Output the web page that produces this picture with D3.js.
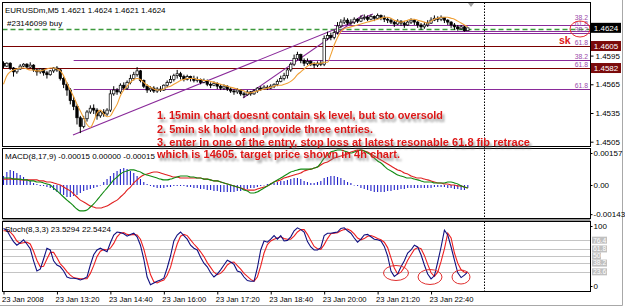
<!DOCTYPE html>
<html>
<head>
<meta charset="utf-8">
<script src="https://cdn.jsdelivr.net/npm/d3@7"></script>
<style>
  body { margin: 0; background: #fff; }
  svg { display: block; }
</style>
</head>
<body>
<script>
// EURUSDm M5, 23 Jan 2008 12:00 .. 23:35 (140 bars)
let firstOpen = 1.4587
let closes = [
  1.4584,1.4587,1.4582,1.4578,1.4581,1.4584,1.4586,1.4583,1.4585,1.4580,
  1.4578,1.4581,1.4577,1.4575,1.4579,1.4582,1.4580,1.4571,1.4565,1.4559,
  1.4548,1.4542,1.4530,1.4521,1.4529,1.4536,1.4540,1.4538,1.4532,1.4536,
  1.4534,1.4538,1.4555,1.4559,1.4557,1.4564,1.4561,1.4567,1.4571,1.4575,
  1.4579,1.4569,1.4563,1.4559,1.4561,1.4558,1.4560,1.4559,1.4564,1.4567,
  1.4570,1.4574,1.4576,1.4573,1.4570,1.4573,1.4571,1.4569,1.4570,1.4567,
  1.4569,1.4565,1.4564,1.4566,1.4563,1.4561,1.4563,1.4560,1.4558,1.4557,
  1.4559,1.4555,1.4554,1.4557,1.4555,1.4558,1.4561,1.4560,1.4562,1.4561,
  1.4563,1.4565,1.4568,1.4571,1.4574,1.4580,1.4586,1.4592,1.4596,1.4590,
  1.4587,1.4589,1.4586,1.4585,1.4587,1.4586,1.4613,1.4616,1.4614,1.4619,
  1.4626,1.4630,1.4632,1.4629,1.4630,1.4633,1.4631,1.4634,1.4635,1.4633,
  1.4636,1.4634,1.4637,1.4635,1.4633,1.4632,1.4630,1.4628,1.4631,1.4629,
  1.4627,1.4630,1.4632,1.4630,1.4627,1.4625,1.4627,1.4629,1.4632,1.4634,
  1.4633,1.4635,1.4632,1.4630,1.4627,1.4625,1.4623,1.4625,1.4621,1.4624
]
let highs = [
  1.4589,1.4588,1.4588,1.4583,1.4582,1.4586,1.4587,1.4587,1.4588,1.4586,
  1.4581,1.4582,1.4582,1.4579,1.4580,1.4583,1.4584,1.4581,1.4573,1.4567,
  1.4561,1.4552,1.4544,1.4532,1.4532,1.4538,1.4543,1.4544,1.4540,1.4538,
  1.4539,1.4540,1.4559,1.4563,1.4561,1.4566,1.4567,1.4569,1.4575,1.4578,
  1.4583,1.4580,1.4570,1.4565,1.4563,1.4563,1.4562,1.4563,1.4565,1.4569,
  1.4574,1.4576,1.4580,1.4578,1.4575,1.4575,1.4574,1.4574,1.4573,1.4571,
  1.4571,1.4570,1.4567,1.4568,1.4567,1.4565,1.4565,1.4564,1.4562,1.4560,
  1.4561,1.4560,1.4557,1.4559,1.4558,1.4560,1.4562,1.4563,1.4564,1.4564,
  1.4565,1.4566,1.4570,1.4574,1.4577,1.4582,1.4588,1.4596,1.4599,1.4597,
  1.4592,1.4592,1.4590,1.4588,1.4589,1.4590,1.4616,1.4620,1.4619,1.4622,
  1.4630,1.4633,1.4635,1.4634,1.4633,1.4635,1.4634,1.4637,1.4638,1.4637,
  1.4638,1.4637,1.4639,1.4638,1.4637,1.4635,1.4634,1.4632,1.4633,1.4632,
  1.4631,1.4632,1.4634,1.4633,1.4631,1.4629,1.4630,1.4632,1.4635,1.4637,
  1.4636,1.4637,1.4635,1.4633,1.4631,1.4629,1.4627,1.4627,1.4626,1.4624
]
let lows = [
  1.4582,1.4583,1.4580,1.4573,1.4576,1.4580,1.4583,1.4581,1.4582,1.4578,
  1.4574,1.4576,1.4574,1.4571,1.4574,1.4577,1.4578,1.4569,1.4561,1.4553,
  1.4544,1.4538,1.4523,1.4514,1.4519,1.4526,1.4534,1.4534,1.4528,1.4530,
  1.4531,1.4532,1.4536,1.4553,1.4554,1.4555,1.4559,1.4559,1.4565,1.4569,
  1.4573,1.4567,1.4561,1.4556,1.4557,1.4556,1.4556,1.4557,1.4558,1.4562,
  1.4566,1.4568,1.4571,1.4570,1.4568,1.4569,1.4568,1.4567,1.4567,1.4565,
  1.4566,1.4563,1.4561,1.4563,1.4560,1.4559,1.4559,1.4558,1.4556,1.4554,
  1.4555,1.4553,1.4551,1.4553,1.4553,1.4554,1.4556,1.4558,1.4559,1.4559,
  1.4560,1.4561,1.4563,1.4567,1.4569,1.4571,1.4578,1.4584,1.4590,1.4587,
  1.4584,1.4585,1.4584,1.4582,1.4583,1.4584,1.4584,1.4611,1.4611,1.4612,
  1.4617,1.4624,1.4628,1.4627,1.4627,1.4628,1.4629,1.4630,1.4632,1.4631,
  1.4632,1.4631,1.4633,1.4632,1.4630,1.4629,1.4628,1.4625,1.4627,1.4626,
  1.4624,1.4626,1.4628,1.4627,1.4624,1.4622,1.4623,1.4625,1.4628,1.4631,
  1.4630,1.4631,1.4629,1.4627,1.4624,1.4622,1.4621,1.4622,1.4620,1.4621
]
// orange moving average
let maLine = [
  1.4565,1.4574,1.4578,1.4580,1.4581,1.4582,1.4582,1.4581,1.4580,1.4580,
  1.4579,1.4579,1.4580,1.4581,1.4582,1.4582,1.4581,1.4579,1.4574,1.4566,
  1.4559,1.4552,1.4544,1.4537,1.4530,1.4523,1.4520,1.4526,1.4535,1.4538,
  1.4534,1.4531,1.4532,1.4538,1.4544,1.4553,1.4559,1.4563,1.4567,1.4570,
  1.4571,1.4570,1.4567,1.4564,1.4562,1.4560,1.4559,1.4559,1.4560,1.4562,
  1.4563,1.4565,1.4567,1.4569,1.4570,1.4571,1.4571,1.4571,1.4570,1.4570,
  1.4569,1.4569,1.4568,1.4567,1.4566,1.4565,1.4564,1.4563,1.4562,1.4561,
  1.4560,1.4559,1.4558,1.4556,1.4556,1.4557,1.4558,1.4559,1.4560,1.4561,
  1.4562,1.4563,1.4564,1.4564,1.4565,1.4566,1.4568,1.4571,1.4575,1.4578,
  1.4581,1.4584,1.4586,1.4587,1.4587,1.4587,1.4588,1.4588,1.4596,1.4606,
  1.4614,1.4620,1.4623,1.4624,1.4625,1.4626,1.4627,1.4628,1.4629,1.4630,
  1.4631,1.4632,1.4633,1.4634,1.4635,1.4635,1.4634,1.4632,1.4631,1.4630,
  1.4631,1.4632,1.4633,1.4633,1.4632,1.4631,1.4630,1.4629,1.4631,1.4633,
  1.4634,1.4635,1.4635,1.4635,1.4634,1.4633,1.4631,1.4629,1.4627,1.4625
]
let macdHist = [
  0.00044,0.00064,0.00074,0.00069,0.00059,0.00049,0.00039,0.00029,0.00020,0.00010,
  0.00005,-0.00005,-0.00005,-0.00010,-0.00015,-0.00025,-0.00034,-0.00044,-0.00049,-0.00059,
  -0.00059,-0.00054,-0.00049,-0.00039,-0.00029,-0.00025,-0.00020,-0.00015,-0.00010,0.00000,
  0.00015,0.00029,0.00044,0.00059,0.00069,0.00078,0.00083,0.00078,0.00069,0.00059,
  0.00044,0.00029,0.00015,0.00005,-0.00005,-0.00010,-0.00015,-0.00015,-0.00015,-0.00010,
  -0.00010,-0.00005,-0.00005,-0.00005,-0.00005,-0.00010,-0.00010,-0.00015,-0.00015,-0.00020,
  -0.00020,-0.00025,-0.00025,-0.00029,-0.00029,-0.00034,-0.00034,-0.00034,-0.00034,-0.00034,
  -0.00029,-0.00029,-0.00025,-0.00020,-0.00015,-0.00015,-0.00010,-0.00005,0.00000,0.00005,
  0.00010,0.00010,0.00015,0.00020,0.00020,0.00025,0.00029,0.00034,0.00034,0.00029,
  0.00020,0.00015,0.00010,0.00010,0.00015,0.00020,0.00034,0.00039,0.00044,0.00044,
  0.00039,0.00034,0.00025,0.00015,0.00010,0.00000,-0.00005,-0.00015,-0.00020,-0.00025,
  -0.00029,-0.00034,-0.00034,-0.00034,-0.00034,-0.00029,-0.00029,-0.00025,-0.00025,-0.00020,
  -0.00020,-0.00015,-0.00015,-0.00015,-0.00015,-0.00015,-0.00015,-0.00015,-0.00015,-0.00010,
  -0.00010,-0.00010,-0.00010,-0.00015,-0.00015,-0.00020,-0.00020,-0.00025,-0.00025,-0.00015
]
let macdMain = [
  0.00034,0.00034,0.00034,0.00029,0.00029,0.00029,0.00025,0.00025,0.00020,0.00020,
  0.00015,0.00015,0.00010,0.00005,0.00000,-0.00015,-0.00029,-0.00044,-0.00059,-0.00074,
  -0.00088,-0.00103,-0.00118,-0.00127,-0.00127,-0.00123,-0.00108,-0.00093,-0.00074,-0.00054,
  -0.00034,-0.00015,0.00005,0.00025,0.00039,0.00054,0.00064,0.00069,0.00074,0.00074,
  0.00069,0.00064,0.00054,0.00049,0.00044,0.00039,0.00034,0.00029,0.00025,0.00025,
  0.00029,0.00034,0.00039,0.00044,0.00044,0.00044,0.00039,0.00039,0.00034,0.00034,
  0.00029,0.00029,0.00025,0.00020,0.00020,0.00015,0.00010,0.00005,0.00000,-0.00005,
  -0.00010,-0.00015,-0.00025,-0.00029,-0.00039,-0.00039,-0.00034,-0.00025,-0.00015,-0.00005,
  0.00005,0.00015,0.00025,0.00034,0.00044,0.00054,0.00064,0.00069,0.00074,0.00078,
  0.00078,0.00078,0.00078,0.00083,0.00088,0.00108,0.00132,0.00147,0.00162,0.00167,
  0.00172,0.00172,0.00167,0.00162,0.00157,0.00162,0.00167,0.00172,0.00167,0.00157,
  0.00147,0.00132,0.00118,0.00108,0.00093,0.00078,0.00069,0.00059,0.00049,0.00044,
  0.00039,0.00034,0.00034,0.00029,0.00025,0.00020,0.00015,0.00015,0.00015,0.00010,
  0.00010,0.00010,0.00010,0.00015,0.00015,0.00010,0.00005,-0.00005,-0.00010,-0.00015
]
let macdSignal = [
  0.00029,0.00029,0.00029,0.00029,0.00029,0.00025,0.00025,0.00025,0.00025,0.00025,
  0.00025,0.00020,0.00020,0.00015,0.00015,0.00010,0.00005,0.00000,-0.00010,-0.00020,
  -0.00029,-0.00044,-0.00059,-0.00074,-0.00083,-0.00093,-0.00103,-0.00108,-0.00113,-0.00113,
  -0.00108,-0.00103,-0.00093,-0.00083,-0.00074,-0.00059,-0.00044,-0.00025,-0.00010,0.00010,
  0.00025,0.00039,0.00049,0.00054,0.00059,0.00064,0.00064,0.00059,0.00054,0.00049,
  0.00044,0.00039,0.00039,0.00034,0.00034,0.00034,0.00034,0.00034,0.00034,0.00034,
  0.00029,0.00029,0.00025,0.00020,0.00020,0.00015,0.00010,0.00005,0.00000,-0.00005,
  -0.00010,-0.00015,-0.00020,-0.00025,-0.00025,-0.00025,-0.00020,-0.00015,-0.00010,-0.00005,
  0.00005,0.00015,0.00020,0.00025,0.00034,0.00039,0.00044,0.00049,0.00054,0.00059,
  0.00069,0.00074,0.00078,0.00083,0.00088,0.00098,0.00108,0.00113,0.00123,0.00132,
  0.00137,0.00142,0.00147,0.00152,0.00162,0.00167,0.00172,0.00172,0.00167,0.00162,
  0.00152,0.00142,0.00132,0.00123,0.00113,0.00103,0.00093,0.00083,0.00074,0.00069,
  0.00059,0.00054,0.00044,0.00039,0.00034,0.00034,0.00029,0.00025,0.00020,0.00015,
  0.00010,0.00010,0.00005,0.00005,0.00000,0.00000,-0.00005,-0.00005,-0.00010,-0.00015
]
let stochK = [
  96,93,83,74,68,72,77,70,62,42,
  25,28,45,63,60,42,35,32,25,15,
  13,13,12,10,12,15,35,52,60,63,
  60,57,72,85,90,89,87,83,86,88,
  82,68,45,15,2,5,8,10,13,30,
  50,75,85,90,84,78,68,63,60,48,
  38,32,22,15,20,27,35,43,40,36,
  25,23,15,9,8,8,30,60,75,73,
  78,84,78,84,75,76,82,92,97,94,
  90,74,65,60,60,64,84,88,88,89,
  90,96,97,92,88,80,73,78,85,86,
  82,78,77,75,66,50,25,16,20,32,
  42,55,60,68,65,52,35,20,12,17,
  40,65,93,85,65,43,22,14,18,23.5294
]
let stochD = [
  92,92,90,84,75,71,72,73,70,58,
  43,32,33,45,56,56,47,37,31,24,
  18,14,13,12,12,12,21,34,49,58,
  61,60,63,71,82,88,89,86,85,86,
  85,78,62,40,19,7,5,8,10,18,
  31,52,70,83,86,84,77,70,64,57,
  49,39,31,23,19,21,27,35,39,40,
  34,28,21,16,11,8,15,33,55,69,
  75,78,80,82,79,78,78,83,90,94,
  94,86,76,66,62,61,69,79,87,88,
  89,92,94,95,92,87,80,77,79,83,
  84,82,79,77,73,64,47,30,20,23,
  31,43,52,61,64,62,51,36,22,16,
  23,41,62,88,80,55,38,27,23,22.5424
]
let stochLevels = [76.4, 61.8, 50, 38.2, 23.6]

let timeTickBars = [0, 16, 32, 48, 64, 80, 96, 112, 128]
let timeLabels = ['23 Jan 2008', '23 Jan 13:20', '23 Jan 14:40', '23 Jan 16:00', '23 Jan 17:20',
  '23 Jan 18:40', '23 Jan 20:00', '23 Jan 21:20', '23 Jan 22:40']
let separatorBar = 144

let priceTicks = [1.4595, 1.4565, 1.4535, 1.4505]
let macdTicks = [0.00157, 0, -0.00143]
let macdTickLabels = ['0.00157', '0.00', '-0.00143']

let orderPrice = 1.4623
let srLevels = [1.4605, 1.4582]
let fibLevels = [1.4627, 1.4621, 1.4619, 1.4605, 1.4590, 1.4582, 1.4560]
let fibLabels = ['38.2', '61.8', '38.2', '61.8', '38.2', '61.8', '61.8']
let fibStartBars = [99, 99, 99, 21, 21, 21, 21]
let trendFrom = [[20.8, 1.4512], [71.7, 1.45507]]
let trendTo = [[110.6, 1.46384], [107.6, 1.46374]]

let bidPrice = 1.4624
let notes = [
  '1. 15min chart doesnt contain sk level, but sto oversold',
  '2. 5min sk hold and provide three entries.',
  '3. enter in one of the entry, stop loss at latest resonable 61.8 fib retrace',
  'which is 14605. target price shown in 4h chart.'
]
let noteWidths = [286, 216, 373, 243]

let width = 625,
  height = 308

let svg = d3.select('body')
  .append('svg')
  .attr('width', width)
  .attr('height', height)
  .style('background', '#fff')
  .style('font-family', '"Liberation Sans", Arial, sans-serif')

let main = { top: 2.5, bottom: 146.5 }
let macdP = { top: 148.5, bottom: 218.5 }
let stochP = { top: 221.5, bottom: 291.5 }
let left = 2.5, right = 590.5

let xBar = d3.scaleLinear().domain([0, 144]).range([3.5, 484.5])
let yPrice = d3.scaleLinear().domain([1.45005, 1.4651]).range([146, 2])
let yMacd = d3.scaleLinear().domain([-0.001668, 0.001815]).range([219, 148])
let yStoch = d3.scaleLinear().domain([0, 100]).range([286, 226])

let defs = svg.append('defs')
let shadow = defs.append('filter').attr('id', 'shadow')
  .attr('x', '-5%').attr('y', '-40%').attr('width', '115%').attr('height', '200%')
shadow.append('feDropShadow')
  .attr('dx', 2).attr('dy', 3).attr('stdDeviation', 1.3)
  .attr('flood-color', '#777').attr('flood-opacity', 0.75)

;[['clipMain', main], ['clipMacd', macdP], ['clipStoch', stochP]].forEach(([id, p]) => {
  defs.append('clipPath').attr('id', id).append('rect')
    .attr('x', left).attr('y', p.top).attr('width', right - left).attr('height', p.bottom - p.top)
})

// outer frame
svg.append('line').attr('x1', 622.5).attr('x2', 622.5).attr('y1', 0).attr('y2', 305.5)
  .attr('stroke', '#a8a8a8')
svg.append('line').attr('x1', 0).attr('x2', 622.5).attr('y1', 305.5).attr('y2', 305.5)
  .attr('stroke', '#a8a8a8')

// ---------- main panel ----------
let gMain = svg.append('g').attr('clip-path', 'url(#clipMain)')

fibLevels.forEach((p, i) => {
  gMain.append('line')
    .attr('x1', xBar(fibStartBars[i])).attr('x2', right)
    .attr('y1', Math.round(yPrice(p)) + 0.5).attr('y2', Math.round(yPrice(p)) + 0.5)
    .attr('stroke', '#8a2a9a').attr('stroke-width', 1)
})

srLevels.forEach(p => {
  gMain.append('line')
    .attr('x1', left).attr('x2', right)
    .attr('y1', Math.round(yPrice(p)) + 0.5).attr('y2', Math.round(yPrice(p)) + 0.5)
    .attr('stroke', '#7a0000').attr('stroke-width', 1)
})

gMain.append('line')
  .attr('x1', left).attr('x2', right)
  .attr('y1', Math.round(yPrice(orderPrice)) + 0.5).attr('y2', Math.round(yPrice(orderPrice)) + 0.5)
  .attr('stroke', '#3d9a3d').attr('stroke-width', 1.3).attr('stroke-dasharray', '5,3')

trendFrom.forEach((a, i) => {
  let b = trendTo[i]
  gMain.append('line')
    .attr('x1', xBar(a[0])).attr('y1', yPrice(a[1]))
    .attr('x2', xBar(b[0])).attr('y2', yPrice(b[1]))
    .attr('stroke', '#8a2a9a').attr('stroke-width', 1.1)
})

let candles = closes.map((c, i) => ({
  i: i,
  o: i === 0 ? firstOpen : closes[i - 1],
  h: highs[i],
  l: lows[i],
  c: c
}))

gMain.selectAll('.wick')
  .data(candles)
  .enter()
  .append('line')
  .attr('x1', d => xBar(d.i)).attr('x2', d => xBar(d.i))
  .attr('y1', d => yPrice(d.h)).attr('y2', d => yPrice(d.l))
  .attr('stroke', '#000').attr('stroke-width', 1)

gMain.selectAll('.body')
  .data(candles)
  .enter()
  .append('rect')
  .attr('x', d => xBar(d.i) - 1.2)
  .attr('width', 2.4)
  .attr('y', d => yPrice(Math.max(d.o, d.c)))
  .attr('height', d => Math.max(0.8, Math.abs(yPrice(d.o) - yPrice(d.c))))
  .attr('fill', d => d.c >= d.o ? '#fff' : '#000')
  .attr('stroke', '#000').attr('stroke-width', 0.7)

gMain.append('path')
  .datum(maLine)
  .attr('fill', 'none')
  .attr('stroke', '#f0a035')
  .attr('stroke-width', 1.1)
  .attr('d', d3.line().x((d, i) => xBar(i)).y(d => yPrice(d)).curve(d3.curveMonotoneX))

// fib labels, pushed apart where levels sit close together
let fibLabelY = fibLevels.map(p => Math.round(yPrice(p)) - 1)
let order = d3.range(fibLevels.length).sort((a, b) => fibLabelY[b] - fibLabelY[a])
for (let k = 1; k < order.length; k++) {
  let prev = fibLabelY[order[k - 1]]
  if (prev - fibLabelY[order[k]] < 6) fibLabelY[order[k]] = prev - 6
}
fibLevels.forEach((p, i) => {
  svg.append('text')
    .attr('x', 588).attr('y', fibLabelY[i])
    .attr('text-anchor', 'end')
    .attr('font-size', '6.8px')
    .attr('fill', '#9a4aaa')
    .text(fibLabels[i])
})

// sk mark and circle
svg.append('text')
  .attr('x', 559).attr('y', 44)
  .attr('font-size', '10.5px').attr('font-weight', 'bold')
  .attr('fill', '#e01818')
  .text('sk')
svg.append('ellipse')
  .attr('cx', 580).attr('cy', 29).attr('rx', 10).attr('ry', 8)
  .attr('fill', 'none').attr('stroke', '#e83030').attr('stroke-width', 1)

// ---------- macd panel ----------
let gMacd = svg.append('g').attr('clip-path', 'url(#clipMacd)')

gMacd.selectAll('.hist')
  .data(macdHist)
  .enter()
  .append('line')
  .attr('x1', (d, i) => xBar(i)).attr('x2', (d, i) => xBar(i))
  .attr('y1', yMacd(0)).attr('y2', d => yMacd(d) === yMacd(0) ? yMacd(0) + 0.6 : yMacd(d))
  .attr('stroke', '#2020c8').attr('stroke-width', 1.1)

gMacd.append('path')
  .datum(macdSignal)
  .attr('fill', 'none').attr('stroke', '#e02020').attr('stroke-width', 1.1)
  .attr('d', d3.line().x((d, i) => xBar(i)).y(d => yMacd(d)).curve(d3.curveMonotoneX))

gMacd.append('path')
  .datum(macdMain)
  .attr('fill', 'none').attr('stroke', '#108a10').attr('stroke-width', 1.1)
  .attr('d', d3.line().x((d, i) => xBar(i)).y(d => yMacd(d)).curve(d3.curveMonotoneX))

// ---------- stoch panel ----------
let gStoch = svg.append('g').attr('clip-path', 'url(#clipStoch)')

stochLevels.forEach(v => {
  gStoch.append('line')
    .attr('x1', left).attr('x2', right)
    .attr('y1', Math.round(yStoch(v)) + 0.5).attr('y2', Math.round(yStoch(v)) + 0.5)
    .attr('stroke', '#c4c4c4').attr('stroke-width', 1)
})

gStoch.append('path')
  .datum(stochD)
  .attr('fill', 'none').attr('stroke', '#ee2020').attr('stroke-width', 1.1)
  .attr('d', d3.line().x((d, i) => xBar(i)).y(d => yStoch(d)))

gStoch.append('path')
  .datum(stochK)
  .attr('fill', 'none').attr('stroke', '#101080').attr('stroke-width', 1.1)
  .attr('d', d3.line().x((d, i) => xBar(i)).y(d => yStoch(d)))

;[[396, 273, 12.5, 7.5], [430, 277, 12, 7.5], [461, 277, 9, 7]].forEach(e => {
  svg.append('ellipse')
    .attr('cx', e[0]).attr('cy', e[1]).attr('rx', e[2]).attr('ry', e[3])
    .attr('fill', 'none').attr('stroke', '#e03030').attr('stroke-width', 1)
})

// period separator and chart shift marker
svg.append('line')
  .attr('x1', xBar(separatorBar)).attr('x2', xBar(separatorBar))
  .attr('y1', main.top).attr('y2', stochP.bottom)
  .attr('stroke', '#000').attr('stroke-dasharray', '1.5,1.5')
svg.append('path')
  .attr('d', 'M468,3 L474,3 L471,7 Z')
  .attr('fill', '#a0a0a0')

// panel frames
;[main, macdP, stochP].forEach(p => {
  svg.append('rect')
    .attr('x', left).attr('y', p.top)
    .attr('width', right - left).attr('height', p.bottom - p.top)
    .attr('fill', 'none').attr('stroke', '#000').attr('stroke-width', 1)
})
svg.append('rect').attr('x', left).attr('y', 219).attr('width', right - left).attr('height', 2)
  .attr('fill', '#9a9a9a')

// ---------- axes ----------
let priceAxis = d3.axisRight(yPrice).tickValues(priceTicks).tickSize(3).tickPadding(2)
  .tickFormat(d3.format('.4f'))
svg.append('g').attr('transform', `translate(${right},0)`).call(priceAxis)
  .call(g => g.select('.domain').remove())

let macdAxis = d3.axisRight(yMacd).tickValues(macdTicks).tickSize(2).tickPadding(1)
  .tickFormat((d, i) => macdTickLabels[i])
svg.append('g').attr('transform', `translate(${right},0)`).call(macdAxis)
  .call(g => g.select('.domain').remove())

let stochAxis = d3.axisRight(yStoch).tickValues([100, 0]).tickSize(2).tickPadding(1)
svg.append('g').attr('transform', `translate(${right},0)`).call(stochAxis)
  .call(g => g.select('.domain').remove())

svg.selectAll('.tick text').attr('font-size', '8px').attr('fill', '#000')
  .attr('font-family', '"Liberation Sans", Arial, sans-serif')

stochLevels.forEach(v => {
  let y = yStoch(v)
  svg.append('rect').attr('x', 592).attr('y', y - 3.5).attr('width', v === 50 ? 9 : 15).attr('height', 7)
    .attr('fill', '#c0c0c0')
  svg.append('text').attr('x', 593).attr('y', y + 2.4)
    .attr('font-size', '6.8px').attr('fill', '#fff')
    .text(v)
})

// price tags
;[[bidPrice, '#000'], [srLevels[0], '#7a0a0a'], [srLevels[1], '#7a0a0a']].forEach(t => {
  let y = yPrice(t[0])
  svg.append('rect').attr('x', 591).attr('y', y - 5).attr('width', 30).attr('height', 10)
    .attr('fill', t[1])
  svg.append('text').attr('x', 606).attr('y', y + 3)
    .attr('text-anchor', 'middle')
    .attr('font-size', '8px').attr('fill', '#fff')
    .text(d3.format('.4f')(t[0]))
})

let timeAxis = d3.axisBottom(xBar).tickValues(timeTickBars).tickSize(3)
  .tickFormat((d, i) => timeLabels[i])
svg.append('g').attr('transform', `translate(0,${stochP.bottom})`).call(timeAxis)
  .call(g => g.select('.domain').remove())
  .call(g => g.selectAll('text')
    .attr('text-anchor', 'start').attr('dx', -2).attr('dy', '0.55em')
    .attr('font-size', '7.6px').attr('font-family', '"Liberation Sans", Arial, sans-serif'))

// ---------- header texts ----------
svg.append('text').attr('x', 5).attr('y', 12.5).attr('font-size', '8px')
  .text('EURUSDm,M5  1.4621 1.4624 1.4621 1.4624')
svg.append('text').attr('x', 7).attr('y', 26).attr('font-size', '8px')
  .text('#23146099 buy')
svg.append('text').attr('x', 5).attr('y', 159).attr('font-size', '8px')
  .text('MACD(8,17,9) -0.00015 0.00000 -0.00015')
svg.append('text').attr('x', 5).attr('y', 232).attr('font-size', '8px')
  .text('Stoch(8,3,3) 23.5294 22.5424')

// ---------- annotation ----------
let noteY = [119, 133, 145.5, 158]
notes.forEach((t, i) => {
  svg.append('text')
    .attr('x', 157).attr('y', noteY[i])
    .attr('font-size', '11px').attr('font-weight', 'bold')
    .attr('fill', '#dd1414')
    .attr('textLength', noteWidths[i]).attr('lengthAdjust', 'spacingAndGlyphs')
    .attr('filter', 'url(#shadow)')
    .text(t)
})
</script>
</body>
</html>
